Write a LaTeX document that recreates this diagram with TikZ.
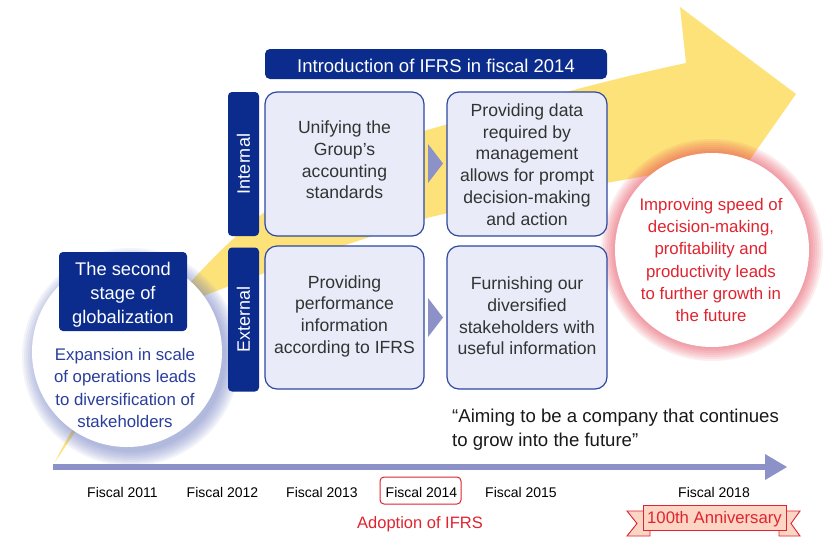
\documentclass[tikz,border=0pt]{standalone}
\usepackage{fontspec}
\setmainfont{Liberation Sans}
\usetikzlibrary{calc}
\definecolor{arrowyellow}{RGB}{253,226,122}
\definecolor{darkblue}{RGB}{11,44,140}
\definecolor{boxfill}{RGB}{233,236,248}
\definecolor{boxline}{RGB}{46,71,160}
\definecolor{tlcol}{RGB}{140,145,200}
\definecolor{redtxt}{RGB}{224,36,47}
\definecolor{bluetxt}{RGB}{42,62,156}
\definecolor{graytxt}{RGB}{51,51,51}
\definecolor{redglow}{RGB}{232,64,80}
\definecolor{blueglow}{RGB}{100,115,190}
\definecolor{bannerfill}{RGB}{252,213,197}
\begin{document}
\begin{tikzpicture}[x=1pt,y=-1pt,
  stepbox/.style={draw=boxline, line width=1.2pt, fill=boxfill, rounded corners=12pt,
    minimum width=159pt, minimum height=144pt, inner sep=0pt},
  boxtext/.style={text=graytxt, align=center, inner sep=0pt, font=\fontsize{17.6}{21.7}\selectfont},
  strip/.style={fill=darkblue, rounded corners=4pt, rotate=90, minimum width=144pt,
    minimum height=31pt, inner sep=0pt, text=white, font=\fontsize{18}{20}\selectfont},
  tri/.style={fill=tlcol},
  fiscal/.style={text=black, inner sep=0pt, font=\fontsize{14}{16}\selectfont},
]
\useasboundingbox (0,0) rectangle (826,538);
\fill[white] (0,0) rectangle (826,538);

% big yellow swoosh arrow
\fill[arrowyellow] (55,462) .. controls (185,267) and (277,172) .. (427,130)
  .. controls (507,107.6) and (606,80) .. (686,63)
  -- (680,7) -- (796,94) -- (704,225) -- (694,167)
  .. controls (600,185) and (500,200) .. (427,218)
  .. controls (330,250) and (240,280) .. (187,303)
  .. controls (140,323) and (80,410) .. (55,462) -- cycle;

% left circle with glow
\foreach \r in {0,2,...,14} {\fill[blueglow, opacity=0.08] (131,357) circle[radius=95+\r];}
\fill[white] (127,352) circle[radius=95];
\node[text=bluetxt, align=center, inner sep=0pt, font=\fontsize{16.8}{22.6}\selectfont]
  (lefttext) at (125,388) {Expansion in scale\\of operations leads\\to diversification of\\stakeholders};

% right circle with glow
\foreach \r in {0,2,...,14} {\fill[redglow, opacity=0.09] (712,250) circle[radius=97+\r];}
\fill[white] (712,250) circle[radius=97];
\node[text=redtxt, align=center, inner sep=0pt, font=\fontsize{16.8}{22.3}\selectfont]
  (righttext) at (711,260) {Improving speed of\\decision-making,\\profitability and\\productivity leads\\to further growth in\\the future};

% second stage box
\node[fill=darkblue, rounded corners=4pt, minimum width=128pt, minimum height=79pt, inner sep=0pt]
  (stage) at (123,291.5) {};
\node[text=white, align=center, inner sep=0pt, font=\fontsize{18.3}{24}\selectfont]
  (stagetext) at (123,294.5) {The second\\stage of\\globalization};

% title
\node[fill=darkblue, rounded corners=5pt, minimum width=342pt, minimum height=30pt, inner sep=0pt,
  text height=17pt, text=white, font=\fontsize{18.5}{20}\selectfont] (title) at (436,64) {Introduction of IFRS in fiscal 2014};

% strips
\node[strip] (internal) at (243.5,164) {Internal};
\node[strip] (external) at (243.5,319.5) {External};

% boxes
\node[stepbox] (b1) at (344.5,164) {};
\node[stepbox, minimum width=160pt] (b2) at (527,164) {};
\node[stepbox, minimum height=143pt] (b3) at (344.5,317.5) {};
\node[stepbox, minimum width=160pt, minimum height=143pt] (b4) at (527,317.5) {};
\node[boxtext] (t1) at (344.5,160) {Unifying the\\Group’s\\accounting\\standards};
\node[boxtext] (t2) at (527,164.5) {Providing data\\required by\\management\\allows for prompt\\decision-making\\and action};
\node[boxtext] (t3) at (344.5,316) {Providing\\performance\\information\\according to IFRS};
\node[boxtext] (t4) at (527,316) {Furnishing our\\diversified\\stakeholders with\\useful information};

% small triangles
\fill[tri] (428,144) -- (443,163.5) -- (428,183) -- cycle;
\fill[tri] (428,298) -- (443,317.5) -- (428,337) -- cycle;

% quote
\node[anchor=west, align=left, inner sep=0pt, text=black!90, font=\fontsize{18.6}{24}\selectfont]
  (quote) at (452,430) {“Aiming to be a company that continues\\to grow into the future”};

% timeline
\coordinate (tl0) at (53,467);
\coordinate (tl1) at (766,467);
\draw[tlcol, line width=6pt] (tl0) -- (tl1);
\fill[tlcol] (765,454) -- (787,467) -- (765,480) -- cycle;

\node[fiscal] (f11) at (122.5,492.5) {Fiscal 2011};
\node[fiscal] (f12) at (222.5,492.5) {Fiscal 2012};
\node[fiscal] (f13) at (322,492.5) {Fiscal 2013};
\node[draw=redtxt, line width=1pt, rounded corners=4pt, minimum width=81pt, minimum height=27pt, inner sep=0pt]
  (f14box) at (420.5,490.5) {};
\node[fiscal] (f14) at (421.5,492.5) {Fiscal 2014};
\node[fiscal] (f15) at (521,492.5) {Fiscal 2015};
\node[fiscal] (f18) at (714,492.5) {Fiscal 2018};

\node[text=redtxt, inner sep=0pt, font=\fontsize{16.5}{18}\selectfont] (adopt) at (420,524.5) {Adoption of IFRS};

% banner
\filldraw[draw=redtxt, fill=bannerfill, line width=0.9pt]
  (650,511) -- (627,511) -- (637,523.5) -- (627,536) -- (650,536) -- cycle;
\filldraw[draw=redtxt, fill=bannerfill, line width=0.9pt]
  (779,511) -- (800,511) -- (791,523.5) -- (800,536) -- (779,536) -- cycle;
\node[draw=redtxt, fill=bannerfill, line width=0.9pt, minimum width=143pt, minimum height=25pt,
  inner sep=0pt] (anniv) at (714.5,517.5) {};
\node[text=redtxt, inner sep=0pt, font=\fontsize{16.7}{18}\selectfont] (annivtext) at (714.5,519.5) {100th Anniversary};
\end{tikzpicture}
\end{document}
